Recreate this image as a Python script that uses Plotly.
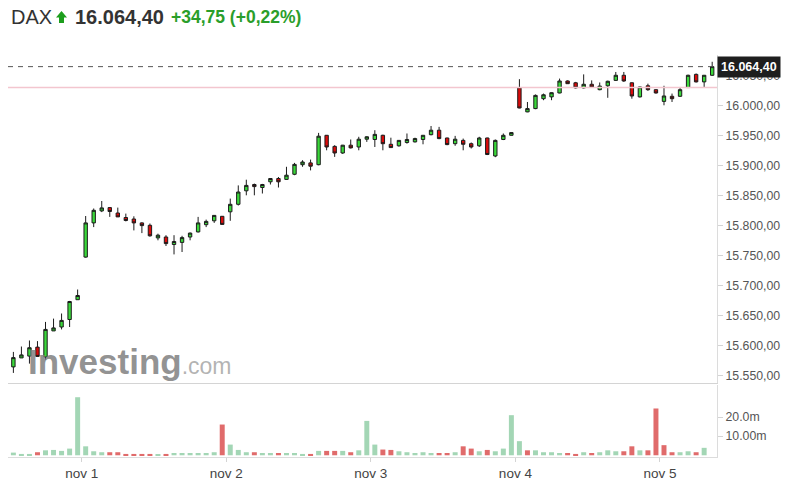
import plotly.graph_objects as go

# ---------------- data (30-min bars, DAX) ----------------
opens = [15564, 15579, 15582, 15597, 15580.5, 15624, 15630.5, 15643, 15676,
         15747, 15804, 15824, 15829.5, 15820.5, 15813, 15810.5, 15804, 15800, 15779, 15780.5, 15768, 15771.5, 15780.5, 15789, 15801, 15807.5, 15815,
         15822.5, 15835, 15857.5, 15868, 15863, 15872.5, 15878, 15876.5, 15885, 15901, 15904, 15901, 15950, 15931.5, 15920.5, 15933.5, 15930.5, 15943.5,
         15943, 15950, 15935, 15932.5, 15938, 15939, 15943, 15951, 15958.5, 15945.5, 15936, 15941.5, 15936, 15932.5, 15945.5, 15915.5, 15943, 15950,
         16029, 15989, 15994.5, 16011, 16014, 16020.5, 16040.5, 16037.5, 16029, 16035, 16026, 16032.5, 16041.5, 16050, 16037.5, 16014, 16032.5, 16026,
         16006.5, 16015, 16015, 16029.5, 16051.5, 16039, 16050]
highs = [15589, 15598, 15608, 15607, 15639, 15644.5, 15653, 15674, 15693,
         15815.5, 15828, 15840.5, 15830, 15829.5, 15819.5, 15815, 15805, 15803, 15786, 15783.5, 15783.5, 15782.5, 15788, 15814, 15809.5, 15817, 15815.5,
         15844.5, 15866.5, 15876, 15869.5, 15869, 15878, 15880.5, 15897.5, 15904, 15908.5, 15909.5, 15954, 15950.5, 15933.5, 15934, 15943, 15947.5, 15948.5,
         15958.5, 15951, 15946, 15942, 15953, 15946, 15950.5, 15965.5, 15964, 15946, 15949, 15944.5, 15938, 15947.5, 15946, 15943, 15953, 15955,
         16043.5, 16005.5, 16018, 16019.5, 16021.5, 16044.5, 16041.5, 16039, 16051.5, 16041.5, 16038, 16041, 16055.5, 16055.5, 16038, 16031, 16036, 16026.5,
         16032.5, 16019.5, 16030.5, 16051, 16053, 16050.5, 16072.5]
lows = [15554, 15579, 15569.5, 15581, 15576, 15624, 15626.5, 15630.5, 15676,
        15746, 15797, 15822, 15814, 15814, 15806.5, 15791.5, 15787, 15781, 15775, 15765.5, 15751.5, 15755.5, 15775, 15788, 15797, 15804, 15801,
        15807.5, 15833, 15850, 15850, 15853, 15868, 15863, 15876, 15883.5, 15897.5, 15891.5, 15900, 15925, 15914, 15919, 15928, 15925, 15939,
        15930.5, 15925, 15929, 15931, 15936, 15938, 15935, 15950, 15943.5, 15933.5, 15932.5, 15925, 15928, 15930.5, 15917, 15913.5, 15942, 15949.5,
        15995, 15988.5, 15993.5, 16008.5, 16008.5, 16020, 16035.5, 16028, 16028, 16029.5, 16025, 16012.5, 16040.5, 16039, 16011, 16013, 16024, 16019.5,
        16000, 16005.5, 16014, 16029, 16038, 16030.5, 16049]
closes = [15579.5, 15584, 15596, 15581.5, 15626.5, 15629, 15641.5, 15673, 15683,
          15804, 15825, 15829, 15823, 15814, 15808, 15804, 15799.5, 15782.5, 15783.5, 15769.5, 15773, 15779.5, 15787, 15804, 15806.5, 15816.5, 15801.5,
          15835, 15855.5, 15866.5, 15864.5, 15868, 15878, 15872.5, 15883.5, 15901.5, 15905.5, 15898.5, 15948.5, 15930.5, 15920.5, 15933.5, 15929, 15943.5, 15947.5,
          15951.5, 15936, 15929.5, 15941.5, 15943, 15944.5, 15950, 15958.5, 15944.5, 15934.5, 15943.5, 15935, 15930.5, 15945.5, 15918, 15941.5, 15950, 15954.5,
          15995.5, 15994.5, 16016.5, 16017.5, 16021, 16040.5, 16036, 16029, 16035, 16030.5, 16032, 16040, 16050, 16040.5, 16015.5, 16030.5, 16026, 16020.5,
          16015.5, 16011, 16026, 16050, 16039, 16050, 16064.4]
# volume in millions (the current, unfinished bar has none yet)
volumes_m = [1.4, 0.7, 0.7, 1.6, 2.6, 2.8, 2.3, 3.5, 30.4,
             4.7, 2.1, 1.6, 1.6, 1.6, 0.7, 0.7, 0.7, 0.7, 0.5, 0.7, 1.2, 1.2, 1.2, 1.2, 1.2, 1.6, 16.1,
             5.6, 2.8, 1.6, 1.6, 1.2, 1.2, 1.2, 1.2, 1.2, 0.7, 0.7, 2.3, 2.3, 2.3, 2.3, 1.6, 2.6, 18.0,
             5.6, 3.0, 2.8, 2.1, 1.6, 1.2, 1.6, 1.2, 1.2, 1.2, 1.6, 4.7, 3.5, 2.1, 2.8, 2.1, 3.5, 21.0,
             7.4, 2.6, 2.6, 1.6, 1.6, 1.2, 1.2, 0.7, 1.6, 1.2, 1.6, 2.6, 2.1, 2.1, 4.7, 2.6, 2.6, 24.5,
             5.3, 1.6, 1.6, 2.1, 1.6, 3.9, None]

day_labels = ["nov 1", "nov 2", "nov 3", "nov 4", "nov 5"]
bars_before_first_day = 9
bars_per_day = 18
last_price = 16064.40
prev_close = 16029.65
price_ticks = [15550, 15600, 15650, 15700, 15750, 15800, 15850, 15900, 15950, 16000, 16050]
vol_ticks = [10, 20]
vol_tick_text = ["10.00m", "20.0m"]

# ---------------- derived ----------------
idx = list(range(len(closes)))
day_tick_pos = [bars_before_first_day + k * bars_per_day - 0.5 for k in range(len(day_labels))]
vol_colors = []
for i, c in enumerate(closes):
    up = True if i == 0 else c >= closes[i - 1]
    vol_colors.append("#a3d6b5" if up else "#e06b6b")


def de_fmt(v):
    return f"{abs(v):,.2f}".replace(",", "X").replace(".", ",").replace("X", ".")


change = last_price - prev_close
pct = change / prev_close * 100

W, H = 791, 490
ML, MR, MT, MB = 8, 74, 55, 33
PW, PH = W - ML - MR, H - MT - MB


def px(xp):   # pixel -> paper x (for decorations only)
    return (xp - ML) / PW


def py(yp):   # pixel -> paper y
    return (H - MB - yp) / PH


fig = go.Figure()
fig.add_trace(go.Bar(
    x=idx, y=volumes_m, xaxis="x2", yaxis="y2",
    marker=dict(color=vol_colors, line=dict(width=0)),
    hoverinfo="skip", showlegend=False))
fig.add_trace(go.Candlestick(
    x=idx, open=opens, high=highs, low=lows, close=closes,
    xaxis="x", yaxis="y",
    increasing=dict(fillcolor="#3ad83a", line=dict(color="#1c1c1c", width=1)),
    decreasing=dict(fillcolor="#dc0a0a", line=dict(color="#1c1c1c", width=1)),
    whiskerwidth=0, showlegend=False))

x_range = [-0.67, 87.6]
FONT = "Liberation Sans, Arial, sans-serif"
axis_font = dict(family=FONT, size=12.3, color="#555")

fig.update_layout(
    width=W, height=H, autosize=False,
    margin=dict(l=ML, r=MR, t=MT, b=MB, pad=0),
    paper_bgcolor="white", plot_bgcolor="white",
    separators=",.",
    bargap=0.38, boxgap=0.4,
    showlegend=False,
    xaxis=dict(domain=[0, 1], anchor="y", range=x_range, showticklabels=False,
               rangeslider=dict(visible=False), showgrid=False, zeroline=False,
               showline=True, linecolor="#d4d4d4", linewidth=1, ticks=""),
    xaxis2=dict(domain=[0, 1], anchor="y2", matches="x", range=x_range,
                tickmode="array", tickvals=day_tick_pos, ticktext=day_labels,
                ticks="outside", ticklen=4, tickcolor="#d4d4d4",
                showgrid=False, zeroline=False, showline=True, linecolor="#dcdcdc",
                tickfont=dict(family=FONT, size=13.5, color="#444")),
    yaxis=dict(domain=[py(383), 1], anchor="x", side="right",
               range=[15537.2, 16083.8], tickmode="array", tickvals=price_ticks,
               tickformat=",.2f", ticks="outside", ticklen=5, tickcolor="#d4d4d4",
               showgrid=False, zeroline=False, showline=True, linecolor="#dcdcdc",
               tickfont=axis_font),
    yaxis2=dict(domain=[0, py(385)], anchor="x2", side="right",
                range=[-0.9, 36.8], tickmode="array", tickvals=vol_ticks, ticktext=vol_tick_text,
                ticks="outside", ticklen=5, tickcolor="#d4d4d4",
                showgrid=False, zeroline=False, showline=True, linecolor="#dcdcdc",
                tickfont=axis_font),
)

# previous close line and last price dashed line
fig.add_shape(type="line", xref="paper", x0=0, x1=1, yref="y", y0=prev_close, y1=prev_close,
              line=dict(color="#f3c6cf", width=1.5))
fig.add_shape(type="line", xref="paper", x0=0, x1=1, yref="y", y0=last_price, y1=last_price,
              line=dict(color="#555555", width=1, dash="5px,5px"))

# price tag on the axis
fig.add_annotation(xref="paper", x=1, xanchor="left", yref="y", y=last_price, yanchor="middle",
                   text="<b>" + de_fmt(last_price) + "</b>", showarrow=False,
                   bgcolor="#1e1e1e", borderpad=3,
                   font=dict(family=FONT, size=12.5, color="white"))

# header
sign = "+" if change >= 0 else "-"
fig.add_annotation(xref="paper", x=px(9), xanchor="left", yref="paper", y=py(17), yanchor="middle",
                   text="DAX", showarrow=False,
                   font=dict(family=FONT, size=20, color="#333"))
# green up arrow (decoration)
fig.add_shape(type="path", xref="paper", yref="paper", line=dict(width=0), fillcolor="#1d9e1d",
              path=(f"M {px(56)} {py(17.5)} L {px(61.5)} {py(11)} L {px(67)} {py(17.5)} "
                    f"L {px(64)} {py(17.5)} L {px(64)} {py(23)} L {px(59)} {py(23)} L {px(59)} {py(17.5)} Z"))
fig.add_annotation(xref="paper", x=px(73), xanchor="left", yref="paper", y=py(17), yanchor="middle",
                   text="<b>" + de_fmt(last_price) + "</b>", showarrow=False,
                   font=dict(family=FONT, size=20, color="#333"))
fig.add_annotation(xref="paper", x=px(169), xanchor="left", yref="paper", y=py(17), yanchor="middle",
                   text="<b>" + sign + de_fmt(change) + " (" + sign
                        + f"{abs(pct):.2f}".replace(".", ",") + "%)</b>",
                   showarrow=False,
                   font=dict(family=FONT, size=17.5, color="#2a9e2a"))

# watermark
fig.add_annotation(xref="paper", x=px(26), xanchor="left", yref="paper", y=py(361), yanchor="middle",
                   text="<b>Investing</b><span style='font-size:23px;color:#a6a6a6'>.com</span>",
                   showarrow=False,
                   font=dict(family=FONT, size=35, color="rgba(128,128,128,0.85)"))

fig.write_html("out.html", config={"displayModeBar": False},
               post_script="document.body.style.margin='0';document.body.style.overflow='hidden';")
